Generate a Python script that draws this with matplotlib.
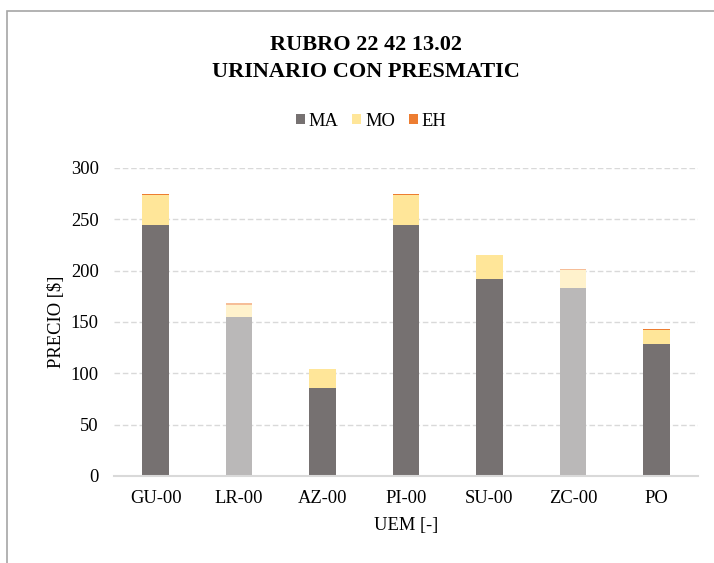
import matplotlib
matplotlib.use("Agg")
import matplotlib.pyplot as plt
from matplotlib.patches import Rectangle, Patch
import numpy as np

categories = ["GU-00", "LR-00", "AZ-00", "PI-00", "SU-00", "ZC-00", "PO"]
ma = [244.0, 155.0, 86.0, 244.0, 191.5, 183.5, 129.0]
mo = [29.5, 12.0, 17.8, 29.5, 23.7, 17.2, 13.3]
eh = [1.3, 1.3, 0.7, 1.3, 0.0, 0.6, 1.3]
highlighted = [False, True, False, False, False, True, False]

plt.rcParams["font.family"] = ["Liberation Serif", "DejaVu Serif"]

colors = {
    "MA": ("#767171", "#BAB8B8"),
    "MO": ("#FFE699", "#FFF2CC"),
    "EH": ("#ED7D31", "#F6BE98"),
}

fig = plt.figure(figsize=(7.14, 5.63), dpi=100)
W, H = 714, 563
ax = fig.add_axes([114 / W, 1 - 476 / H, (698 - 114) / W, (476 - 168) / H])

x = np.arange(len(categories))
width = 0.32
bottom = np.zeros(len(categories))
for name, vals in (("MA", ma), ("MO", mo), ("EH", eh)):
    dark, light = colors[name]
    cols = [light if h else dark for h in highlighted]
    ax.bar(x, vals, width, bottom=bottom, color=cols, zorder=3, linewidth=0)
    bottom = bottom + np.array(vals)

ax.set_xlim(-0.5, len(categories) - 0.5)
ax.set_ylim(0, 300)
ax.set_yticks(np.arange(0, 301, 50))
ax.set_xticks(x)
ax.set_xticklabels(categories)
ax.yaxis.grid(True, linestyle=(0, (4, 2)), color="#D9D9D9", linewidth=1.0, zorder=0)
ax.tick_params(axis="both", length=0, labelsize=13.3, colors="#000000")
ax.tick_params(axis="x", pad=10)
ax.tick_params(axis="y", pad=11)
for side in ("top", "right", "left"):
    ax.spines[side].set_visible(False)
ax.spines["bottom"].set_color("#D9D9D9")
ax.spines["bottom"].set_linewidth(1.5)
ax.spines["bottom"].set_zorder(4)

ax.set_ylabel("PRECIO [$]", fontsize=13.3, labelpad=4)
ax.set_xlabel("UEM [-]", fontsize=13.3, labelpad=7)

fig.text(366 / W, 1 - 45 / H, "RUBRO 22 42 13.02", ha="center", va="center",
         fontsize=16, fontweight="bold")
fig.text(366 / W, 1 - 72 / H, "URINARIO CON PRESMATIC", ha="center", va="center",
         fontsize=16, fontweight="bold")

handles = [Patch(facecolor=colors[k][0], label=k) for k in ("MA", "MO", "EH")]
fig.legend(handles=handles, loc="center", bbox_to_anchor=(371 / W, 1 - 121 / H),
           ncol=3, frameon=False, fontsize=13.3, handlelength=0.5,
           handleheight=0.5, handletextpad=0.2, columnspacing=0.75,
           borderpad=0, borderaxespad=0)

fig.patches.append(Rectangle((7 / W, -0.05), 1.0, 1 - 11 / H + 0.05,
                             transform=fig.transFigure, fill=False,
                             edgecolor="#A6A6A6", linewidth=1.2))

fig.savefig("out.png", dpi=100)
